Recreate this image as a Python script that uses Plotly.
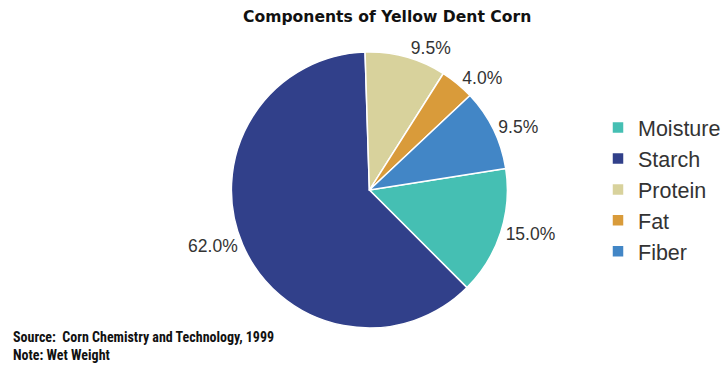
import plotly.graph_objects as go

categories = ["Moisture", "Starch", "Protein", "Fat", "Fiber"]
values = [15.0, 62.0, 9.5, 4.0, 9.5]
colors = ["#45BFB3", "#31408A", "#D8D29C", "#D99B3A", "#4286C6"]

title_text = "Components of Yellow Dent Corn"
source_text = "Source:  Corn Chemistry and Technology, 1999<br>Note: Wet Weight"

fig = go.Figure()
fig.add_trace(go.Pie(
    labels=categories,
    values=values,
    sort=False,
    direction="clockwise",
    rotation=81,
    marker=dict(colors=colors, line=dict(color="white", width=1.5)),
    textposition="outside",
    texttemplate="%{value:.1f}%",
    textfont=dict(family="Liberation Sans, Arial, sans-serif", size=17.5, color="#333333"),
    domain=dict(x=[0.246, 0.796], y=[0.111, 0.859]),
    hoverinfo="label+percent",
))

fig.update_layout(
    width=726, height=369,
    margin=dict(l=0, r=0, t=0, b=0),
    paper_bgcolor="white",
    plot_bgcolor="white",
    showlegend=True,
    legend=dict(
        x=0.844, y=0.71, xanchor="left", yanchor="top",
        font=dict(family="Liberation Sans, Arial, sans-serif", size=21.5, color="#333333"),
        bgcolor="rgba(0,0,0,0)",
    ),
    annotations=[
        dict(text="<b>" + title_text + "</b>", x=0.546, y=0.985, xref="paper", yref="paper",
             xanchor="center", yanchor="top", showarrow=False,
             font=dict(family="DejaVu Sans, Arial, sans-serif", size=15.6, color="#111111")),
        dict(text="<b>" + source_text + "</b>", x=0.015, y=0.01, xref="paper", yref="paper",
             xanchor="left", yanchor="bottom", align="left", showarrow=False,
             font=dict(family="Liberation Sans Narrow, Roboto Condensed, Arial Narrow, sans-serif", size=14, color="#111111")),
    ],
)

fig.write_html("out.html")
